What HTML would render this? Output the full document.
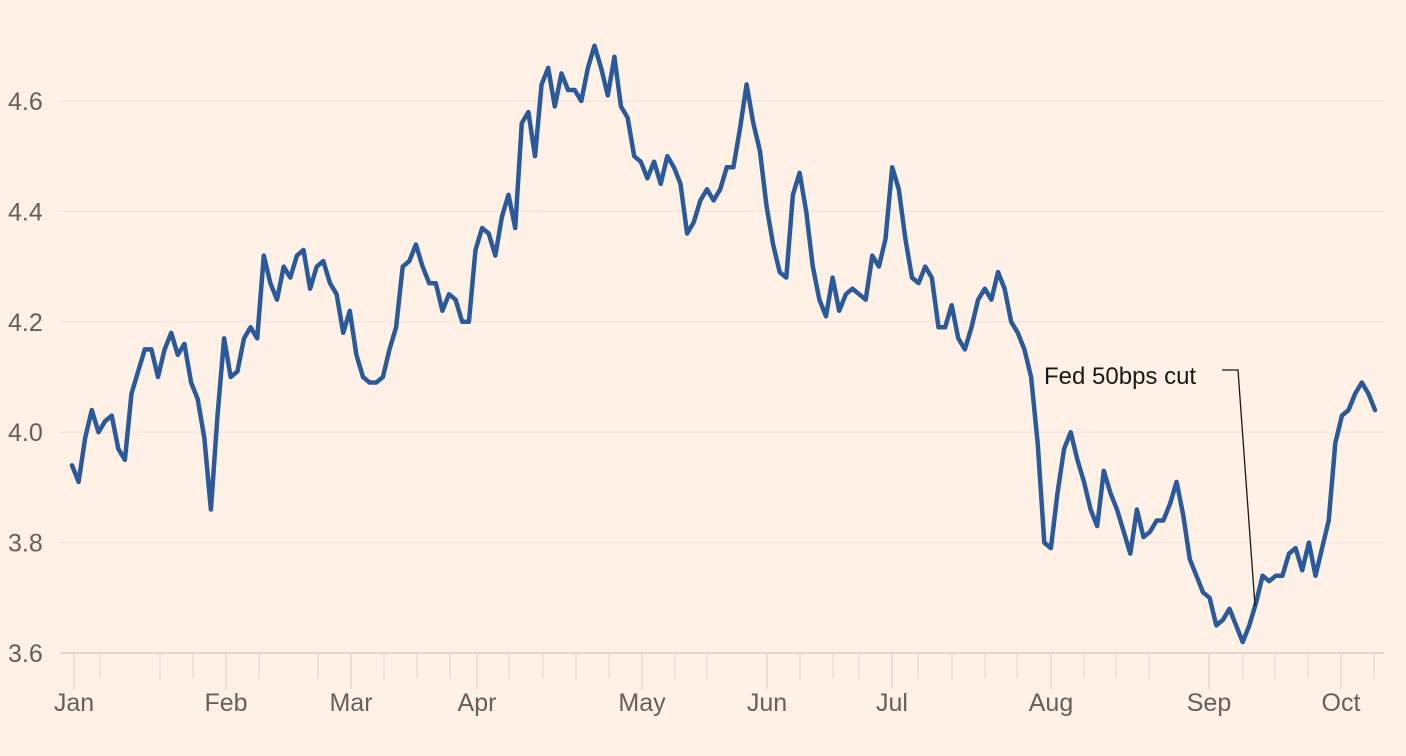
<!DOCTYPE html>
<html><head><meta charset="utf-8">
<style>
html,body{margin:0;padding:0;background:#fff1e5;}
svg{display:block;font-family:"Liberation Sans",sans-serif;}
</style></head>
<body>
<svg id="chart" width="1406" height="756" viewBox="0 0 1406 756">
<rect width="1406" height="756" fill="#fff1e5"/>
<g id="grid"></g><g id="ticks"></g><g id="ylabels"></g><g id="xlabels"></g>
<path id="line" fill="none" stroke="#2a5a9c" stroke-width="4.5" stroke-linejoin="round" stroke-linecap="round"/>
<g>
<text x="1044" y="384" font-size="24" fill="#1a1817">Fed 50bps cut</text>
<polyline points="1222,370 1238,370 1255,606" fill="none" stroke="#1a1817" stroke-width="1.3"/>
</g>
</svg>
<script>
const yTicks=[3.6,3.8,4.0,4.2,4.4,4.6];
const yTickLabels=["3.6","3.8","4.0","4.2","4.4","4.6"];
const months=["Jan","Feb","Mar","Apr","May","Jun","Jul","Aug","Sep","Oct"];
const values=[3.94,3.91,3.99,4.04,4.00,4.02,4.03,3.97,3.95,4.07,4.11,4.15,4.15,4.10,4.15,4.18,4.14,4.16,4.09,4.06,3.99,3.86,4.03,4.17,4.10,4.11,4.17,4.19,4.17,4.32,4.27,4.24,4.30,4.28,4.32,4.33,4.26,4.30,4.31,4.27,4.25,4.18,4.22,4.14,4.10,4.09,4.09,4.10,4.15,4.19,4.30,4.31,4.34,4.30,4.27,4.27,4.22,4.25,4.24,4.20,4.20,4.33,4.37,4.36,4.32,4.39,4.43,4.37,4.56,4.58,4.50,4.63,4.66,4.59,4.65,4.62,4.62,4.60,4.66,4.70,4.66,4.61,4.68,4.59,4.57,4.50,4.49,4.46,4.49,4.45,4.50,4.48,4.45,4.36,4.38,4.42,4.44,4.42,4.44,4.48,4.48,4.55,4.63,4.56,4.51,4.41,4.34,4.29,4.28,4.43,4.47,4.40,4.30,4.24,4.21,4.28,4.22,4.25,4.26,4.25,4.24,4.32,4.30,4.35,4.48,4.44,4.35,4.28,4.27,4.30,4.28,4.19,4.19,4.23,4.17,4.15,4.19,4.24,4.26,4.24,4.29,4.26,4.20,4.18,4.15,4.10,3.98,3.80,3.79,3.89,3.97,4.00,3.95,3.91,3.86,3.83,3.93,3.89,3.86,3.82,3.78,3.86,3.81,3.82,3.84,3.84,3.87,3.91,3.85,3.77,3.74,3.71,3.70,3.65,3.66,3.68,3.65,3.62,3.65,3.69,3.74,3.73,3.74,3.74,3.78,3.79,3.75,3.80,3.74,3.79,3.84,3.98,4.03,4.04,4.07,4.09,4.07,4.04];
const NS="http://www.w3.org/2000/svg";
const X0=72,X1=1375,Y0=653,YPX=552;
const monthX=[74,226,351,477,642,767,892,1051,1209,1341];
const minorX=[100,160,193,259,318,384,417,450,509,543,576,609,675,707,800,833,859,918,952,985,1017,1084,1116,1149,1243,1275,1308,1374];
function yS(v){return Y0-(v-3.6)*YPX;}
function xS(i){return X0+(X1-X0)*i/(values.length-1);}
const grid=document.getElementById('grid'),ticks=document.getElementById('ticks'),yl=document.getElementById('ylabels'),xl=document.getElementById('xlabels');
yTicks.forEach((t,i)=>{
  const l=document.createElementNS(NS,'line');
  l.setAttribute('x1',i===0?60:60);l.setAttribute('x2',1384);l.setAttribute('y1',yS(t));l.setAttribute('y2',yS(t));
  l.setAttribute('stroke',i===0?'#e2d8cf':'#efe4da');l.setAttribute('stroke-width',i===0?2:1.2);
  
  
  grid.appendChild(l);
  const tx=document.createElementNS(NS,'text');
  tx.setAttribute('x',8);tx.setAttribute('y',yS(t)+9);tx.setAttribute('font-size','25');tx.setAttribute('fill','#66605c');
  tx.textContent=yTickLabels[i];
  
  
  yl.appendChild(tx);
});
monthX.forEach((x,i)=>{
  const l=document.createElementNS(NS,'line');
  l.setAttribute('x1',x);l.setAttribute('x2',x);l.setAttribute('y1',653);l.setAttribute('y2',689);
  l.setAttribute('stroke','#e0d6cc');l.setAttribute('stroke-width',1.2);
  
  
  ticks.appendChild(l);
  const tx=document.createElementNS(NS,'text');
  tx.setAttribute('x',x);tx.setAttribute('y',711);tx.setAttribute('font-size','25');tx.setAttribute('fill','#66605c');tx.setAttribute('text-anchor','middle');
  tx.textContent=months[i];
  
  
  xl.appendChild(tx);
});
minorX.forEach(x=>{
  const l=document.createElementNS(NS,'line');
  l.setAttribute('x1',x);l.setAttribute('x2',x);l.setAttribute('y1',653);l.setAttribute('y2',679);
  l.setAttribute('stroke','#e6ddd3');l.setAttribute('stroke-width',1.2);
  
  
  ticks.appendChild(l);
});
document.getElementById('line').setAttribute('d',values.map((v,i)=>(i?'L':'M')+xS(i).toFixed(1)+','+yS(v).toFixed(1)).join(''));
</script>
</body></html>
